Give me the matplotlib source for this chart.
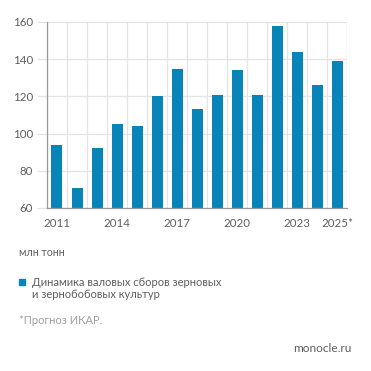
import matplotlib
matplotlib.use("Agg")
import matplotlib.pyplot as plt
from matplotlib.patches import Rectangle

years = ["2011", "2012", "2013", "2014", "2015", "2016", "2017", "2018",
         "2019", "2020", "2021", "2022", "2023", "2024", "2025*"]
values = [94, 71, 92, 105, 104, 120, 135, 113, 121, 134, 121, 158, 144, 126, 139]
shown_labels = ["2011", "2014", "2017", "2020", "2023", "2025*"]
y_ticks = [60, 80, 100, 120, 140, 160]

BAR = "#0885b8"
GRID = "#e4e4e4"
SPINE = "#9a9a9a"
TXT = "#5e5e5e"
FONT = ["Lato", "DejaVu Sans"]

plt.rcParams["font.family"] = FONT

W = H = 371
fig = plt.figure(figsize=(W / 100, H / 100), dpi=100)
ax = fig.add_axes([47 / W, 1 - 208 / H, 300 / W, 186 / H])

x = list(range(len(years)))
ax.bar(x, values, width=0.55, color=BAR, zorder=3)
ax.set_xlim(-0.5, len(years) - 0.5)
ax.set_ylim(60, 160)

ax.set_yticks(y_ticks)
ax.set_yticklabels([str(v) for v in y_ticks])
pos = [years.index(l) for l in shown_labels]
ax.set_xticks(pos)
ax.set_xticklabels(shown_labels)
ax.set_xticks([i - 0.5 for i in range(len(years) + 1)], minor=True)

ax.grid(axis="y", which="major", color=GRID, lw=0.9, zorder=0)
ax.grid(axis="x", which="minor", color=GRID, lw=0.9, zorder=0)
ax.grid(axis="x", which="major", visible=False)

ax.tick_params(axis="y", which="major", length=7, color=GRID, width=0.9,
               labelsize=8.3, labelcolor=TXT, pad=3)
ax.tick_params(axis="x", which="major", length=0, labelsize=8.3, labelcolor=TXT, pad=7)
ax.tick_params(axis="x", which="minor", length=0)

for s in ["top", "right"]:
    ax.spines[s].set_visible(False)
for s in ["left", "bottom"]:
    ax.spines[s].set_color(SPINE)
    ax.spines[s].set_linewidth(0.9)
ax.spines["left"].set_zorder(4)
ax.spines["bottom"].set_zorder(4)
ax.axvline(len(years) - 0.5, color=GRID, lw=0.9, zorder=0)

def fy(py):
    return 1 - py / H

fig.text(19 / W, fy(252), "млн тонн", fontsize=7.6, color=TXT, va="center", ha="left")
fig.patches.append(Rectangle((19 / W, fy(285)), 6 / W, 6 / H, transform=fig.transFigure,
                             color=BAR, figure=fig))
fig.text(32 / W, fy(282), "Динамика валовых сборов зерновых", fontsize=8,
         color=TXT, va="center", ha="left")
fig.text(32 / W, fy(294), "и зернобобовых культур", fontsize=8,
         color=TXT, va="center", ha="left")
fig.text(19 / W, fy(321), "*Прогноз ИКАР.", fontsize=8, color="#a0a0a0",
         va="center", ha="left")
fig.text(352 / W, fy(348), "monocle.ru", fontsize=8.6, color=TXT, va="center", ha="right")

fig.savefig("out.png", dpi=100, facecolor="white")
